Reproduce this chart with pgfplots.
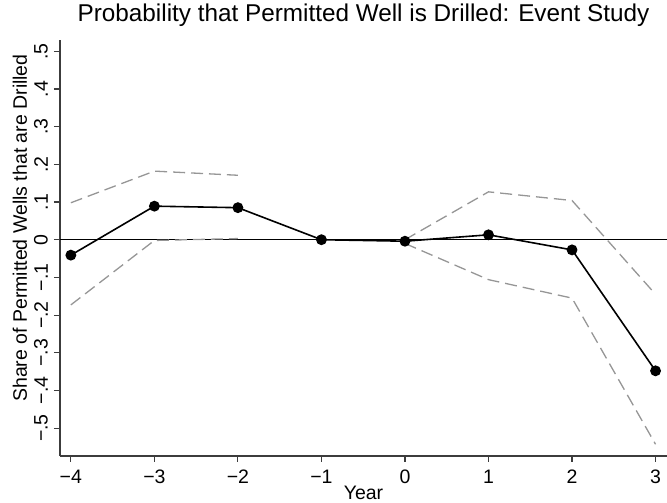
\documentclass[border=0pt]{standalone}
\usepackage{pgfplots}
\pgfplotsset{compat=1.18}
\usepackage{fontspec}
\setmainfont{Liberation Sans}
\definecolor{cigray}{RGB}{150,150,150}
\definecolor{axgray}{RGB}{60,60,60}
\begin{document}
\begin{tikzpicture}[x=1pt,y=1pt]
\begin{axis}[
  at={(0,0)}, anchor=south west,
  scale only axis,
  width=607pt, height=416pt,
  xmin=-4.13, xmax=3.137,
  ymin=-0.574, ymax=0.53,
  axis x line*=bottom, axis y line*=left,
  axis line style={axgray, line width=1.2pt, -},
  xtick={-4,-3,-2,-1,0,1,2,3},
  xticklabels={−4,−3,−2,−1,0,1,2,3},
  ytick={-0.5,-0.4,-0.3,-0.2,-0.1,0,0.1,0.2,0.3,0.4,0.5},
  yticklabels={−.5,−.4,−.3,−.2,−.1,0,.1,.2,.3,.4,.5},
  tick align=outside, major tick length=6pt,
  tick style={axgray, line width=1.1pt},
  ticklabel style={font=\fontsize{19.5}{22}\selectfont},
  yticklabel style={rotate=90, anchor=south, inner sep=0pt, yshift=6pt},
  xticklabel style={anchor=north, inner sep=0pt, yshift=-8pt},
  xlabel={Year},
  ylabel={Share of Permitted Wells that are Drilled},
  label style={font=\fontsize{19.5}{22}\selectfont},
  xlabel style={at={([yshift=-43.5pt]axis description cs:0.5,0)}, anchor=base},
  ylabel style={at={([xshift=-33pt]axis description cs:0,0.548)}, anchor=base},
  title={Probability that Permitted Well is Drilled: Event Study},
  title style={font=\fontsize{24.3}{28}\selectfont, at={([yshift=12pt]axis description cs:0.5,1)}, anchor=base},
  clip=false,
]
% zero reference line
\addplot[black, line width=1pt] coordinates {(-4.13,0) (3.137,0)};
% confidence bands
\addplot[cigray, line width=1.3pt, dash pattern=on 12pt off 6pt] coordinates {(-4,0.098) (-3,0.182) (-2,0.171)};
\addplot[cigray, line width=1.3pt, dash pattern=on 12pt off 6pt] coordinates {(-4,-0.173) (-3,-0.002) (-2,0.003)};
\addplot[cigray, line width=1.3pt, dash pattern=on 12pt off 6pt] coordinates {(0,0.0) (1,0.127) (2,0.104) (3,-0.145)};
\addplot[cigray, line width=1.3pt, dash pattern=on 12pt off 6pt] coordinates {(0,-0.01) (1,-0.106) (2,-0.155) (3,-0.543)};
% point estimates
\addplot[black, line width=1.6pt, mark=*, mark size=4.6pt, mark options={solid, fill=black}] coordinates {
(-4,-0.041) (-3,0.089) (-2,0.085) (-1,0.0) (0,-0.004) (1,0.013) (2,-0.027) (3,-0.348)};
\end{axis}
\pgfresetboundingbox
\path (-60,-47) rectangle (607,456);
\end{tikzpicture}
\end{document}
